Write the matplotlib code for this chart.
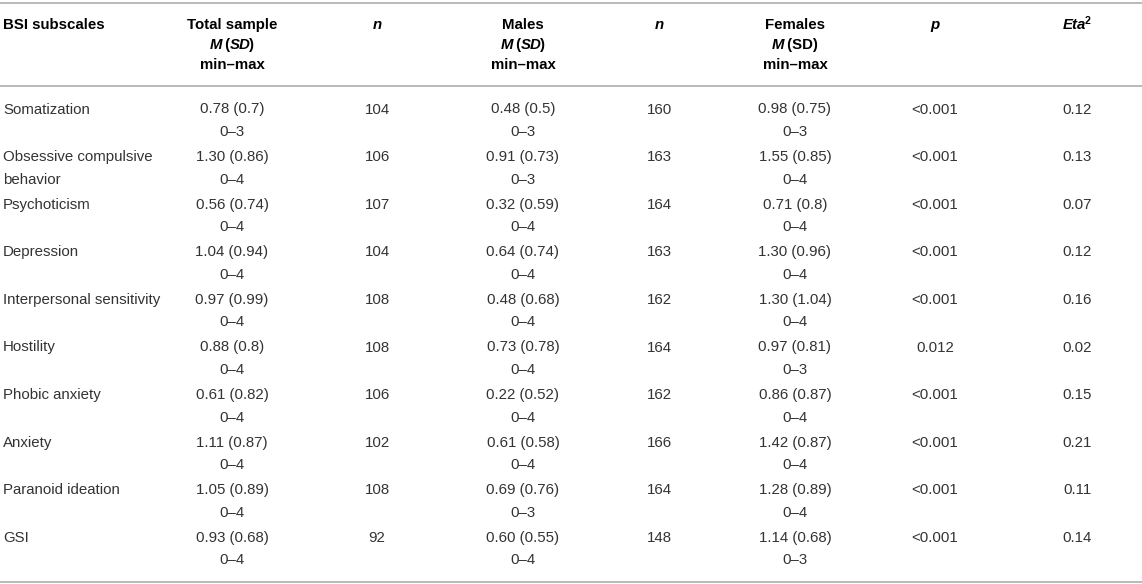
import matplotlib
matplotlib.use("Agg")
import matplotlib.pyplot as plt
from matplotlib.lines import Line2D

plt.rcParams['font.family'] = ['Liberation Sans', 'DejaVu Sans']

# table contents
subscales = ["Somatization", "Obsessive compulsive\nbehavior", "Psychoticism", "Depression",
             "Interpersonal sensitivity", "Hostility", "Phobic anxiety", "Anxiety",
             "Paranoid ideation", "GSI"]
total_msd = ["0.78 (0.7)", "1.30 (0.86)", "0.56 (0.74)", "1.04 (0.94)", "0.97 (0.99)",
             "0.88 (0.8)", "0.61 (0.82)", "1.11 (0.87)", "1.05 (0.89)", "0.93 (0.68)"]
total_range = ["0–3", "0–4", "0–4", "0–4", "0–4", "0–4", "0–4", "0–4", "0–4", "0–4"]
n_males = [104, 106, 107, 104, 108, 108, 106, 102, 108, 92]
males_msd = ["0.48 (0.5)", "0.91 (0.73)", "0.32 (0.59)", "0.64 (0.74)", "0.48 (0.68)",
             "0.73 (0.78)", "0.22 (0.52)", "0.61 (0.58)", "0.69 (0.76)", "0.60 (0.55)"]
males_range = ["0–3", "0–3", "0–4", "0–4", "0–4", "0–4", "0–4", "0–4", "0–3", "0–4"]
n_females = [160, 163, 164, 163, 162, 164, 162, 166, 164, 148]
females_msd = ["0.98 (0.75)", "1.55 (0.85)", "0.71 (0.8)", "1.30 (0.96)", "1.30 (1.04)",
               "0.97 (0.81)", "0.86 (0.87)", "1.42 (0.87)", "1.28 (0.89)", "1.14 (0.68)"]
females_range = ["0–3", "0–4", "0–4", "0–4", "0–4", "0–3", "0–4", "0–4", "0–4", "0–3"]
p_values = ["<0.001", "<0.001", "<0.001", "<0.001", "<0.001",
            "0.012", "<0.001", "<0.001", "<0.001", "<0.001"]
eta2 = ["0.12", "0.13", "0.07", "0.12", "0.16", "0.02", "0.15", "0.21", "0.11", "0.14"]

W, H = 1142, 584
FS = 10.8
TXT = '#333333'
RULE = '#b4b4b4'

fig = plt.figure(figsize=(W / 100, H / 100), dpi=100)
renderer = fig.canvas.get_renderer()


def fx(x):
    return x / W


def fy(y):
    return 1 - y / H


def rule(y):
    fig.add_artist(Line2D([0, 1], [fy(y), fy(y)], color=RULE, lw=1.3,
                          transform=fig.transFigure))


def put(x, y, s, ha='center', **kw):
    kw.setdefault('color', TXT)
    kw.setdefault('fontsize', FS)
    fig.text(fx(x), fy(y), s, ha=ha, va='center', **kw)


def mixed(xc, y, parts):
    # parts: (text, fontweight, fontstyle, size scale, y shift px)
    arts = []
    total = 0
    for s, wt, st, sc, dy in parts:
        t = fig.text(0, fy(y - dy), s, fontsize=FS * sc, fontweight=wt, fontstyle=st,
                     color='black', ha='left', va='center')
        w = t.get_window_extent(renderer).width
        if st == 'italic':
            w -= 1.5
        arts.append((t, w))
        total += w
    x = xc - total / 2
    for t, w in arts:
        t.set_x(fx(x))
        x += w


# column centres (px)
col_label = 3
col_total = 232
col_n1 = 377
col_males = 523
col_n2 = 659
col_fem = 795
col_p = 935
col_eta = 1077

# header
rule(2.5)
h1, h2, h3 = 25, 45, 65
put(col_label, h1, "BSI subscales", ha='left', fontweight='bold', color='black')
for xc, title in [(col_total, "Total sample"), (col_males, "Males"), (col_fem, "Females")]:
    put(xc, h1, title, fontweight='bold', color='black')
    put(xc, h3, "min–max", fontweight='bold', color='black')
for xc in (col_total, col_males):
    mixed(xc, h2, [("M", 'bold', 'italic', 1, 0), (" (", 'bold', 'normal', 1, 0),
                   ("SD", 'bold', 'italic', 1, 0), (")", 'bold', 'normal', 1, 0)])
mixed(col_fem, h2, [("M", 'bold', 'italic', 1, 0), (" (SD)", 'bold', 'normal', 1, 0)])
for xc in (col_n1, col_n2):
    put(xc, h1, "n", fontweight='bold', fontstyle='italic', color='black')
put(col_p, h1, "p", fontweight='bold', fontstyle='italic', color='black')
mixed(col_eta, h1, [("Eta", 'bold', 'italic', 1, 0), ("2", 'bold', 'normal', 0.7, 4)])
rule(86)

# body
row0, step, gap = 109.5, 47.6, 22.5
for i, name in enumerate(subscales):
    y1 = row0 + i * step
    y2 = y1 + gap
    lines = name.split("\n")
    put(col_label, y1, lines[0], ha='left')
    if len(lines) > 1:
        put(col_label, y2, lines[1], ha='left')
    put(col_total, y1, total_msd[i])
    put(col_total, y2, total_range[i])
    put(col_n1, y1, str(n_males[i]))
    put(col_males, y1, males_msd[i])
    put(col_males, y2, males_range[i])
    put(col_n2, y1, str(n_females[i]))
    put(col_fem, y1, females_msd[i])
    put(col_fem, y2, females_range[i])
    put(col_p, y1, p_values[i])
    put(col_eta, y1, eta2[i])

rule(581.5)

fig.savefig("out.png", dpi=100)
